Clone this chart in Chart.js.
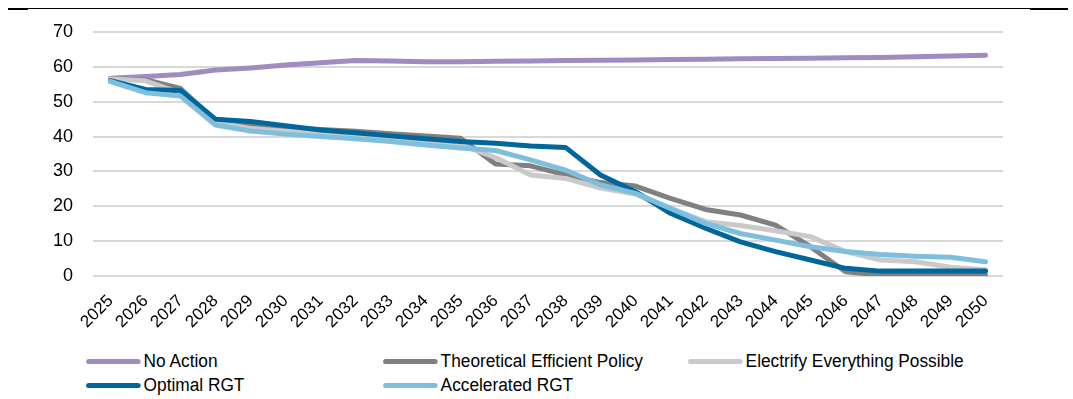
<!DOCTYPE html>
<html>
<head>
<meta charset="utf-8">
<script src="https://cdn.jsdelivr.net/npm/chart.js@4"></script>
<style>
  body { margin: 0; background: #fff; }
  #wrap { position: relative; width: 1073px; height: 399px; overflow: hidden; }
  .rule { position: absolute; top: 8px; left: 8px; width: 1060px; height: 0; border-top: 1px solid #000; }
  .cap { position: absolute; height: 2px; background: #000; top: 8px; }
  #chart { position: absolute; left: 0; top: 0; }
  .leg { position: absolute; display: flex; align-items: center; font-family: "Liberation Sans", Arial, sans-serif; font-size: 18px; color: #000; white-space: nowrap; transform: scaleX(0.96); transform-origin: left center; }
  .leg span.sw { display: inline-block; width: 57px; height: 5px; border-radius: 3px; margin-right: 3px; }
</style>
</head>
<body>
<div id="wrap">
  <div class="rule"></div>
  <div class="cap" style="left:8px;width:20px"></div>
  <div class="cap" style="left:1030px;width:38px"></div>
  <canvas id="chart" width="1073" height="345"></canvas>
  <div id="legend"></div>
</div>
<script>
const years = ["2025", "2026", "2027", "2028", "2029", "2030", "2031", "2032", "2033", "2034", "2035", "2036", "2037",
  "2038", "2039", "2040", "2041", "2042", "2043", "2044", "2045", "2046", "2047", "2048", "2049", "2050"];

const noAction = [56.7, 57.2, 57.8, 59.1, 59.7, 60.5, 61.2, 61.8, 61.7, 61.5, 61.5, 61.6, 61.7,
  61.8, 61.9, 62.0, 62.1, 62.2, 62.3, 62.4, 62.5, 62.6, 62.7, 62.9, 63.1, 63.3];
const theoretical = [56.5, 56.3, 53.8, 44.5, 43.5, 42.5, 42.0, 41.5, 40.8, 40.2, 39.5, 32.1, 31.6,
  29.0, 26.8, 25.8, 22.3, 19.1, 17.5, 14.6, 8.4, 1.2, 0.3, 0.3, 0.3, 0.3];
const electrify = [56.5, 56.0, 52.5, 44.0, 42.3, 41.5, 40.8, 40.0, 39.3, 38.6, 37.6, 34.0, 29.0,
  28.0, 25.2, 23.5, 19.4, 15.6, 14.5, 13.0, 11.3, 7.0, 4.6, 4.1, 2.5, 1.8];
const optimalRgt = [56.0, 53.5, 53.2, 45.0, 44.3, 43.1, 41.9, 41.1, 40.2, 39.4, 38.6, 38.1, 37.3,
  36.9, 29.0, 24.2, 18.0, 13.7, 9.8, 7.0, 4.6, 2.2, 1.4, 1.4, 1.4, 1.4];
const acceleratedRgt = [55.8, 52.6, 51.6, 43.3, 41.6, 40.7, 40.0, 39.4, 38.6, 37.6, 36.7, 36.0, 33.3,
  30.4, 26.1, 23.7, 19.4, 15.1, 12.2, 10.3, 8.4, 7.0, 6.2, 5.7, 5.4, 4.1];

const yTicks = [0, 10, 20, 30, 40, 50, 60, 70];

const seriesNames = ["No Action", "Theoretical Efficient Policy", "Electrify Everything Possible", "Optimal RGT", "Accelerated RGT"];
const seriesColors = ["#a08bc2", "#808080", "#cacaca", "#00679d", "#7dbfdc"];
const seriesData = [noAction, theoretical, electrify, optimalRgt, acceleratedRgt];

const fontFamily = '"Liberation Sans", Arial, sans-serif';

const datasets = seriesNames.map((name, i) => ({
  label: name,
  data: seriesData[i],
  borderColor: seriesColors[i],
  backgroundColor: seriesColors[i],
  borderWidth: 5,
  pointRadius: 0,
  tension: 0,
  borderJoinStyle: "round",
  borderCapStyle: "round",
  order: seriesNames.length - i  // later series on top, like the original
}));

new Chart(document.getElementById("chart"), {
  type: "line",
  data: { labels: years, datasets: datasets },
  options: {
    responsive: false,
    animation: false,
    devicePixelRatio: 1,
    layout: { padding: { left: 0, right: 70, top: 32, bottom: 0 } },
    plugins: { legend: { display: false }, tooltip: { enabled: false } },
    scales: {
      x: {
        offset: true,
        grid: { display: false },
        border: { display: false },
        ticks: {
          autoSkip: false,
          minRotation: 45,
          maxRotation: 45,
          color: "#000",
          padding: 7,
          font: { family: fontFamily, size: 17 }
        },
        afterFit: s => { s.height = 345 - 276; }
      },
      y: {
        min: 0,
        max: 70,
        afterBuildTicks: s => { s.ticks = yTicks.map(v => ({ value: v })); },
        grid: { color: "#d9d9d9", lineWidth: 2, drawTicks: false },
        border: { display: false },
        ticks: {
          color: "#000",
          padding: 20,
          font: { family: fontFamily, size: 18 }
        },
        afterFit: s => { s.width = 93; }
      }
    }
  }
});

// two-row legend laid out like the original
const legendPos = [[86, 362], [383, 362], [688, 362], [86, 386], [383, 386]];
const legend = document.getElementById("legend");
seriesNames.forEach((name, i) => {
  const el = document.createElement("div");
  el.className = "leg";
  el.style.left = legendPos[i][0] + "px";
  el.style.top = (legendPos[i][1] - 11) + "px";
  el.innerHTML = '<span class="sw" style="background:' + seriesColors[i] + '"></span>' + name;
  legend.appendChild(el);
});
</script>
</body>
</html>
